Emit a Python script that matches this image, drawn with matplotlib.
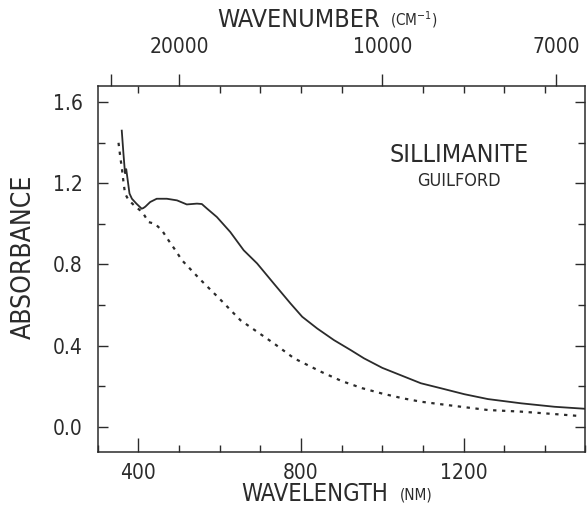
import matplotlib
matplotlib.use("Agg")
import matplotlib.pyplot as plt
from matplotlib.ticker import MultipleLocator, FixedLocator, NullFormatter

# Sillimanite (Guilford) absorbance spectra
wl_solid = [359, 363, 367, 370, 372, 378, 384, 395, 408, 412, 417, 429, 445, 470, 495,
            519, 544, 556, 569, 593, 626, 659, 692, 733, 774, 803, 840, 881, 922, 955,
            1000, 1050, 1095, 1145, 1202, 1260, 1342, 1424, 1500]
abs_solid = [1.46, 1.35, 1.25, 1.27, 1.24, 1.15, 1.124, 1.10, 1.075, 1.078, 1.085, 1.108,
             1.124, 1.124, 1.116, 1.096, 1.10, 1.098, 1.075, 1.034, 0.96, 0.87, 0.805,
             0.706, 0.608, 0.542, 0.484, 0.427, 0.378, 0.337, 0.29, 0.25, 0.214, 0.189,
             0.16, 0.136, 0.115, 0.098, 0.088]

wl_dot = [351, 356, 359, 363, 367, 375, 390, 404, 412, 425, 441, 458, 474, 491, 507, 550,
          600, 651, 692, 733, 783, 850, 900, 950, 1000, 1050, 1095, 1178, 1260, 1342,
          1424, 1482]
abs_dot = [1.40, 1.32, 1.28, 1.21, 1.15, 1.12, 1.09, 1.067, 1.051, 1.009, 1.0, 0.968,
           0.919, 0.87, 0.821, 0.73, 0.63, 0.525, 0.468, 0.411, 0.337, 0.27, 0.225, 0.19,
           0.163, 0.14, 0.123, 0.102, 0.082, 0.074, 0.062, 0.053]

wavenumbers = [30000, 20000, 10000, 7000]
wavenumber_labels = ["", "20000", "10000", "7000"]

ink = "#2b2b2b"
plt.rcParams['font.family'] = 'DejaVu Sans'
plt.rcParams['font.stretch'] = 'condensed'

fig = plt.figure(figsize=(5.88, 5.09), dpi=100)
ax = fig.add_axes([0.1663, 0.112, 0.8294, 0.719])

ax.plot(wl_solid, abs_solid, color=ink, lw=1.3)
ax.plot(wl_dot, abs_dot, color=ink, lw=1.6, linestyle=(0, (1.5, 2.5)))

ax.set_xlim(300, 1500)
ax.set_ylim(-0.125, 1.68)

ax.xaxis.set_major_locator(FixedLocator([400, 800, 1200]))
ax.xaxis.set_minor_locator(MultipleLocator(100))
ax.yaxis.set_major_locator(MultipleLocator(0.4))
ax.yaxis.set_minor_locator(MultipleLocator(0.2))
ax.yaxis.set_major_formatter(matplotlib.ticker.FormatStrFormatter('%.1f'))

ax.tick_params(which='both', direction='in', colors=ink, width=1.0, labelsize=15,
               right=True, top=False)
ax.tick_params(axis='x', which='major', length=10, pad=8)
ax.tick_params(axis='x', which='minor', length=5)
ax.tick_params(axis='y', which='major', length=7, pad=11)
ax.tick_params(axis='y', which='minor', length=5)
for s in ax.spines.values():
    s.set_color(ink)
    s.set_linewidth(1.1)

# top wavenumber axis
top = ax.twiny()
top.set_xlim(ax.get_xlim())
top.xaxis.set_major_locator(FixedLocator([1e7 / w for w in wavenumbers]))
top.set_xticklabels(wavenumber_labels)
top.xaxis.set_minor_locator(FixedLocator(list(range(400, 1500, 100))))
top.xaxis.set_minor_formatter(NullFormatter())
top.tick_params(which='major', direction='out', length=9, width=1.0, colors=ink,
                labelsize=15, pad=12)
top.tick_params(which='minor', direction='in', length=5, width=1.0, colors=ink)
for s in top.spines.values():
    s.set_visible(False)

# axis titles
fig.text(0.04, 0.495, "ABSORBANCE", rotation=90, ha='center', va='center',
         fontsize=19, color=ink)
fig.text(0.66, 0.03, "WAVELENGTH", ha='right', va='center', fontsize=17, color=ink)
fig.text(0.68, 0.028, "(NM)", ha='left', va='center', fontsize=11, color=ink)
fig.text(0.646, 0.961, "WAVENUMBER", ha='right', va='center', fontsize=18, color=ink)
fig.text(0.663, 0.961, "(CM$^{-1}$)", ha='left', va='center', fontsize=11, color=ink)

ax.text(0.741, 0.811, "SILLIMANITE", transform=ax.transAxes, ha='center', va='center',
        fontsize=18, color=ink)
ax.text(0.741, 0.74, "GUILFORD", transform=ax.transAxes, ha='center', va='center',
        fontsize=13, color=ink)

fig.savefig("out.png", dpi=100)
